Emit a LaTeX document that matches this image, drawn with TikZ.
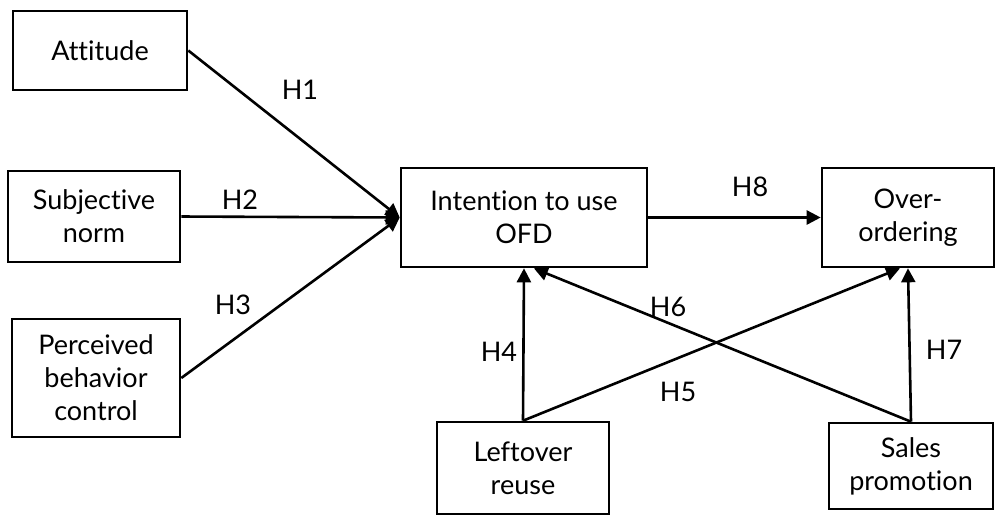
\documentclass[tikz,border=0pt]{standalone}
\usepackage{fontspec}
\setmainfont{Lato}[Ligatures={NoCommon}]
\usetikzlibrary{positioning,arrows.meta}

\begin{document}
\begin{tikzpicture}[
    x=0.5pt, y=-0.5pt,
    font=\fontsize{13.5}{16.5}\selectfont,
    construct/.style={rectangle, draw, line width=1.3pt, align=center, inner sep=0pt},
    path/.style={-{Triangle[length=7pt,width=7pt]}, line width=1.3pt},
    hyp/.style={inner sep=0pt}
]
\useasboundingbox (0,0) rectangle (995,516);

% Antecedents
\node[construct, minimum width=87pt, minimum height=39.5pt] (att) at (100,50.5) {Attitude};
\node[construct, minimum width=86pt, minimum height=45.5pt] (sn) at (94,216.5) {Subjective\\norm};
\node[construct, minimum width=84pt, minimum height=59pt] (pbc) at (96,378) {Perceived\\behavior\\control};

% Intention and outcome
\node[construct, minimum width=123pt, minimum height=49.5pt] (int) at (524,217.5) {Intention to use\\OFD};
\node[construct, minimum width=86pt, minimum height=49.5pt] (over) at (908,217.5) {Over-\\ordering};

% Moderating factors
\node[construct, minimum width=86pt, minimum height=46pt] (left) at (523,468) {Leftover\\reuse};
\node[construct, minimum width=82pt, minimum height=43pt] (sales) at (911,466) {Sales\\promotion};

% Hypothesis labels
\node[hyp] (h1) at (300,90) {H1};
\node[hyp] (h2) at (240,200) {H2};
\node[hyp] (h3) at (233,305) {H3};
\node[hyp] (h4) at (499,352) {H4};
\node[hyp] (h5) at (678,392) {H5};
\node[hyp] (h6) at (668,307) {H6};
\node[hyp] (h7) at (944,350) {H7};
\node[hyp] (h8) at (750,187) {H8};

% Paths to intention
\foreach \src in {att,sn,pbc} {
    \draw[path] (\src.east) -- (int.west);
}
\draw[path] (left.north) -- (int.south);
\draw[path] (sales.north) -- (int.-79);

% Paths to over-ordering
\draw[path] (int.east) -- (over.west);
\draw[path] (left.north) -- (over.-99);
\draw[path] (sales.north) -- (over.south);

\end{tikzpicture}
\end{document}
